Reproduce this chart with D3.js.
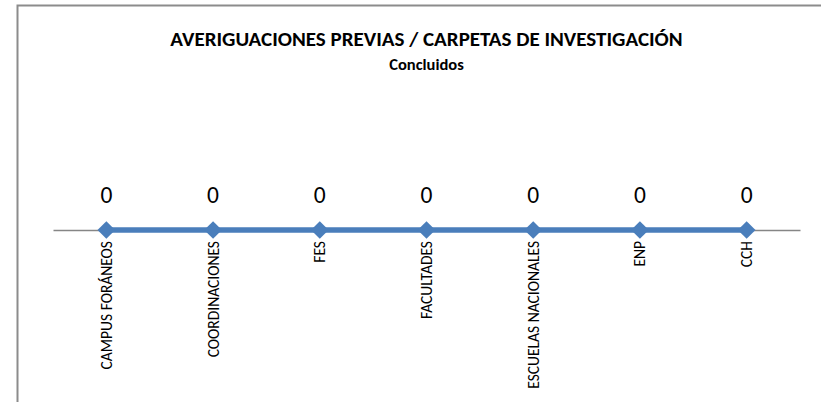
<!DOCTYPE html>
<html>
<head>
<meta charset="utf-8">
<script src="https://cdn.jsdelivr.net/npm/d3@7"></script>
<style>
  body { margin: 0; background: #fff; }
  svg { display: block; }
</style>
</head>
<body>
<div id="chart-area"></div>
<script>
// chart values
var title = "AVERIGUACIONES PREVIAS / CARPETAS DE INVESTIGACIÓN";
var subtitle = "Concluidos";
var categories = ["CAMPUS FORÁNEOS", "COORDINACIONES", "FES", "FACULTADES", "ESCUELAS NACIONALES", "ENP", "CCH"];
var values = [0, 0, 0, 0, 0, 0, 0];

var width = 821, height = 402;
var font = "Carlito, Calibri, 'Liberation Sans', sans-serif";

var svg = d3.select("#chart-area").append("svg")
    .attr("width", width)
    .attr("height", height);

// outer chart frame (runs off the right and bottom edges)
svg.append("rect")
    .attr("x", 17.5).attr("y", 5.5)
    .attr("width", 830).attr("height", 420)
    .attr("fill", "#fff")
    .attr("stroke", "#8c8c8c")
    .attr("stroke-width", 2);

var x = d3.scaleBand()
    .domain(categories)
    .range([53, 800]);

var y = d3.scaleLinear()
    .domain([0, 1])
    .range([230, 100]);

// titles
svg.append("text")
    .attr("x", 426.5).attr("y", 45.5)
    .attr("text-anchor", "middle")
    .style("font-family", font)
    .style("font-weight", "bold")
    .style("font-size", "21px")
    .text(title);

svg.append("text")
    .attr("x", 426.5).attr("y", 70)
    .attr("text-anchor", "middle")
    .style("font-family", font)
    .style("font-weight", "bold")
    .style("font-size", "16.5px")
    .text(subtitle);

// category axis
var axis = svg.append("g")
    .attr("transform", "translate(0," + y(0) + ")")
    .call(d3.axisBottom(x).tickSize(0).tickPadding(0));

axis.select(".domain")
    .attr("stroke", "#868686")
    .attr("stroke-width", 1.3);

axis.selectAll(".tick text")
    .attr("transform", "rotate(-90)")
    .attr("x", -11)
    .attr("y", 0)
    .attr("dy", "0.35em")
    .attr("text-anchor", "end")
    .style("font-family", font)
    .style("font-size", "15.5px")
    .attr("fill", "#000");

// series line
var line = d3.line()
    .x(function (d, i) { return x(categories[i]) + x.bandwidth() / 2; })
    .y(function (d) { return y(d); });

svg.append("path")
    .datum(values)
    .attr("d", line)
    .attr("fill", "none")
    .attr("stroke", "#4a7ebb")
    .attr("stroke-width", 5.5);

svg.selectAll(".marker")
    .data(values)
    .enter()
    .append("path")
    .attr("class", "marker")
    .attr("d", d3.symbol().type(d3.symbolDiamond2).size(200))
    .attr("transform", function (d, i) {
        return "translate(" + (x(categories[i]) + x.bandwidth() / 2) + "," + y(d) + ")";
    })
    .attr("fill", "#4a7ebb");

// value labels
svg.selectAll(".val")
    .data(values)
    .enter()
    .append("text")
    .attr("class", "val")
    .attr("x", function (d, i) { return x(categories[i]) + x.bandwidth() / 2; })
    .attr("y", function (d) { return y(d) - 27; })
    .attr("text-anchor", "middle")
    .style("font-family", font)
    .style("font-size", "23.5px")
    .text(function (d) { return d; });
</script>
</body>
</html>
